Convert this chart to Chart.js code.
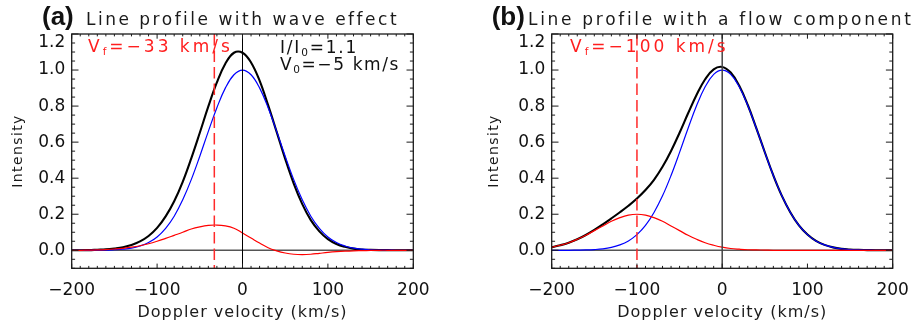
<!DOCTYPE html>
<html><head><meta charset="utf-8">
<script src="https://cdn.jsdelivr.net/npm/chart.js@4.4.0/dist/chart.umd.min.js"></script>
<style>
html,body{margin:0;padding:0;background:#fff;width:918px;height:325px;overflow:hidden}
canvas{position:absolute;top:0}
#ca{left:0}#cb{left:459px}
</style></head><body>
<canvas id="ca" width="459" height="325"></canvas>
<canvas id="cb" width="459" height="325"></canvas>
<script>
// ---------------- data ----------------
const velocity = [-200,-190,-180,-170,-160,-150,-140,-130,-120,-110,-100,-90,-80,-70,-60,-50,-40,-30,-20,-10,0,
                  10,20,30,40,50,60,70,80,90,100,110,120,130,140,150,160,170,180,190,200];

// panel (a): line profile with wave effect
const blueA  = [0.000,0.000,0.000,0.001,0.001,0.003,0.006,0.012,0.024,0.043,0.074,0.122,0.189,0.280,0.392,0.522,0.660,0.791,0.901,0.974,1.000,
                0.974,0.901,0.791,0.660,0.522,0.392,0.280,0.189,0.122,0.074,0.043,0.024,0.012,0.006,0.003,0.001,0.001,0.000,0.000,0.000];
const redA   = [0.000,0.000,0.001,0.002,0.004,0.007,0.011,0.017,0.025,0.036,0.050,0.066,0.083,0.100,0.118,0.130,0.138,0.140,0.135,0.122,0.096,
                0.068,0.040,0.014,-0.003,-0.015,-0.022,-0.024,-0.022,-0.017,-0.012,-0.008,-0.005,-0.003,-0.002,-0.001,0.000,0.000,0.000,0.000,0.000];
const blackA = [0.000,0.000,0.001,0.003,0.005,0.010,0.017,0.029,0.049,0.079,0.124,0.188,0.272,0.380,0.510,0.652,0.798,0.931,1.036,1.096,1.096,
                1.042,0.941,0.805,0.657,0.507,0.370,0.256,0.167,0.105,0.062,0.035,0.019,0.009,0.004,0.002,0.001,0.001,0.000,0.000,0.000];

// panel (b): line profile with a flow component
const blueB  = [0.000,0.000,0.000,0.001,0.002,0.004,0.008,0.016,0.030,0.052,0.087,0.138,0.210,0.302,0.415,0.543,0.677,0.803,0.907,0.976,1.000,
                0.976,0.907,0.803,0.677,0.543,0.415,0.302,0.210,0.138,0.087,0.052,0.030,0.016,0.008,0.004,0.002,0.001,0.000,0.000,0.000];
const redB   = [0.017,0.028,0.042,0.061,0.083,0.109,0.135,0.161,0.181,0.195,0.200,0.195,0.181,0.161,0.135,0.109,0.083,0.061,0.042,0.028,0.017,
                0.010,0.006,0.003,0.002,0.001,0.000,0.000,0.000,0.000,0.000,0.000,0.000,0.000,0.000,0.000,0.000,0.000,0.000,0.000,0.000];
const blackB = [0.017,0.028,0.042,0.061,0.085,0.113,0.144,0.177,0.211,0.247,0.287,0.334,0.391,0.463,0.551,0.652,0.760,0.863,0.949,1.004,1.017,
                0.986,0.913,0.806,0.678,0.544,0.415,0.302,0.210,0.138,0.087,0.052,0.030,0.016,0.008,0.004,0.002,0.001,0.000,0.000,0.000];

const xTickVals = [-200,-100,0,100,200];
const yTickVals = [0.0,0.2,0.4,0.6,0.8,1.0,1.2];
const flowVel   = [-33,-100];          // V_f of each panel
const panelLetters = ['(a)','(b)'];
const panelTitles  = ['Line profile with wave effect','Line profile with a flow component'];
const intensityRatio = 1.1;            // I/I0 in panel (a)
const waveV0 = -5;                     // V0 in panel (a)
const xTitle = 'Doppler velocity (km/s)';
const yTitle = 'Intensity';

// ---------------- helpers ----------------
const FONT = '"DejaVu Sans", sans-serif';
const fmtNum = v => String(v).replace('-', '\u2212');
function pts(ys){ return velocity.map((v,i)=>({x:v,y:ys[i]})); }

function drawRich(ctx, parts, x, yBase, size, color, spacing){
  ctx.save();
  ctx.fillStyle = color; ctx.textAlign = 'left'; ctx.textBaseline = 'alphabetic';
  ctx.letterSpacing = spacing + 'px';
  let cx = x;
  for (const p of parts){
    const fs = p.sub ? size*0.62 : size;
    ctx.font = fs + 'px ' + FONT;
    ctx.fillText(p.t, cx, yBase + (p.sub ? size*0.2 : 0));
    cx += ctx.measureText(p.t).width;
  }
  ctx.restore();
}

const framePlugin = {
  id: 'frame',
  beforeDatasetsDraw(chart, args, o){
    const {ctx, chartArea:a, scales:{y}} = chart;
    const y0 = y.getPixelForValue(0);
    ctx.save();
    ctx.strokeStyle = '#555'; ctx.lineWidth = 1.4;
    ctx.beginPath(); ctx.moveTo(a.left, y0); ctx.lineTo(a.right, y0); ctx.stroke();
    ctx.restore();
  },
  afterDatasetsDraw(chart, args, o){
    const {ctx, chartArea:a, scales:{x}} = chart;
    ctx.save();
    // zero velocity line
    const x0 = x.getPixelForValue(0);
    ctx.strokeStyle = o.zeroColor; ctx.lineWidth = o.zeroWidth;
    ctx.beginPath(); ctx.moveTo(x0, a.top); ctx.lineTo(x0, a.bottom); ctx.stroke();
    // flow velocity dashed line
    const xf = x.getPixelForValue(o.vf);
    ctx.strokeStyle = '#ff2a2a'; ctx.lineWidth = 1.5; ctx.setLineDash([11.5,5]);
    ctx.beginPath(); ctx.moveTo(xf, a.top); ctx.lineTo(xf, a.bottom); ctx.stroke();
    ctx.restore();
  },
  afterDraw(chart, args, o){
    const {ctx, chartArea:a, scales:{x, y}} = chart;
    ctx.save();
    // frame
    ctx.strokeStyle = '#1a1a1a'; ctx.lineWidth = 1.3;
    ctx.strokeRect(a.left, a.top, a.right - a.left, a.bottom - a.top);
    // ticks (inward, all four sides)
    ctx.lineWidth = 1;
    ctx.beginPath();
    for (let k = -20; k <= 20; k++){
      const v = k*10, px = x.getPixelForValue(v);
      const L = (k % 10 === 0) ? 4.7 : 2.4;
      ctx.moveTo(px, a.bottom); ctx.lineTo(px, a.bottom - L);
      ctx.moveTo(px, a.top);    ctx.lineTo(px, a.top + L);
    }
    for (let k = -2; k <= 24; k++){
      const v = k*0.05, py = y.getPixelForValue(v);
      const L = (k % 4 === 0) ? 6.8 : 3.4;
      ctx.moveTo(a.left, py);  ctx.lineTo(a.left + L, py);
      ctx.moveTo(a.right, py); ctx.lineTo(a.right - L, py);
    }
    ctx.stroke();
    // tick labels
    ctx.fillStyle = '#111';
    ctx.font = '17px ' + FONT;
    ctx.textAlign = 'center'; ctx.textBaseline = 'alphabetic';
    for (const v of xTickVals){
      ctx.fillText(fmtNum(v), x.getPixelForValue(v), a.bottom + 26.5);
    }
    ctx.textAlign = 'right'; ctx.textBaseline = 'middle';
    for (const v of yTickVals){
      let py = y.getPixelForValue(v);
      if (py < a.top + 9) py = a.top + 9;
      ctx.fillText(v.toFixed(1), a.left - 6.5, py);
    }
    // axis titles
    ctx.letterSpacing = '1px';
    ctx.font = '16px ' + FONT; ctx.textAlign = 'center'; ctx.textBaseline = 'alphabetic';
    ctx.fillStyle = '#1a1a1a';
    ctx.fillText(xTitle, (a.left + a.right)/2, 316.5);
    ctx.save();
    ctx.letterSpacing = '1.4px';
    ctx.font = '14px ' + FONT;
    ctx.translate(a.left - o.yTitleDx, 151);
    ctx.rotate(-Math.PI/2);
    ctx.fillText(yTitle, 0, 0);
    ctx.restore();
    ctx.letterSpacing = '0px';
    // panel letter and title
    ctx.font = 'bold 26px "Liberation Sans", Arial, sans-serif';
    ctx.textAlign = 'left'; ctx.fillStyle = '#111';
    ctx.fillText(o.letter, o.letterX, 25);
    ctx.restore();
    drawRich(ctx, [{t:o.title}], o.titleX, 25, 17, '#1a1a1a', o.titleSpacing);
    // annotations
    drawRich(ctx, [{t:'V'},{t:'f',sub:true},{t:'=' + fmtNum(o.vf) + ' km/s'}], o.vfX, 52, 17, '#ff1f1f', 3);
    if (o.showWave){
      drawRich(ctx, [{t:'I/I'},{t:'0',sub:true},{t:'=' + intensityRatio}], 280, 53, 17, '#111', 1.8);
      drawRich(ctx, [{t:'V'},{t:'0',sub:true},{t:'=' + fmtNum(waveV0) + ' km/s'}], 280, 70, 17, '#111', 1.6);
    }
  }
};

function makeChart(id, blue, red, black, opts, pad){
  return new Chart(document.getElementById(id), {
    type: 'line',
    data: { datasets: [
      {data: pts(red),   borderColor:'#ff0000', borderWidth:1.2, pointRadius:0, tension:0.4},
      {data: pts(blue),  borderColor:'#0000ff', borderWidth:1.2, pointRadius:0, tension:0.4},
      {data: pts(black), borderColor:'#000000', borderWidth:2.1, pointRadius:0, tension:0.4}
    ]},
    options: {
      responsive:false, animation:false, devicePixelRatio:1,
      layout:{padding:pad},
      scales:{
        x:{type:'linear', min:-200, max:200, display:false},
        y:{type:'linear', min:-0.1, max:1.2, display:false}
      },
      plugins:{legend:{display:false}, tooltip:{enabled:false}, title:{display:false}, frame:opts}
    },
    plugins:[framePlugin]
  });
}

makeChart('ca', blueA, redA, blackA,
  {vf:flowVel[0], letter:panelLetters[0], title:panelTitles[0], letterX:42, titleX:86, titleSpacing:2.5,
   vfX:88, showWave:true, zeroColor:'#000', zeroWidth:1, yTitleDx:50},
  {left:71.7, right:45.7, top:34, bottom:56.7});
makeChart('cb', blueB, redB, blackB,
  {vf:flowVel[1], letter:panelLetters[1], title:panelTitles[1], letterX:32.7, titleX:69, titleSpacing:2.7,
   vfX:111, showWave:false, zeroColor:'#444', zeroWidth:1.5, yTitleDx:54},
  {left:92.7, right:25.3, top:34, bottom:56.7});
</script>
</body></html>
